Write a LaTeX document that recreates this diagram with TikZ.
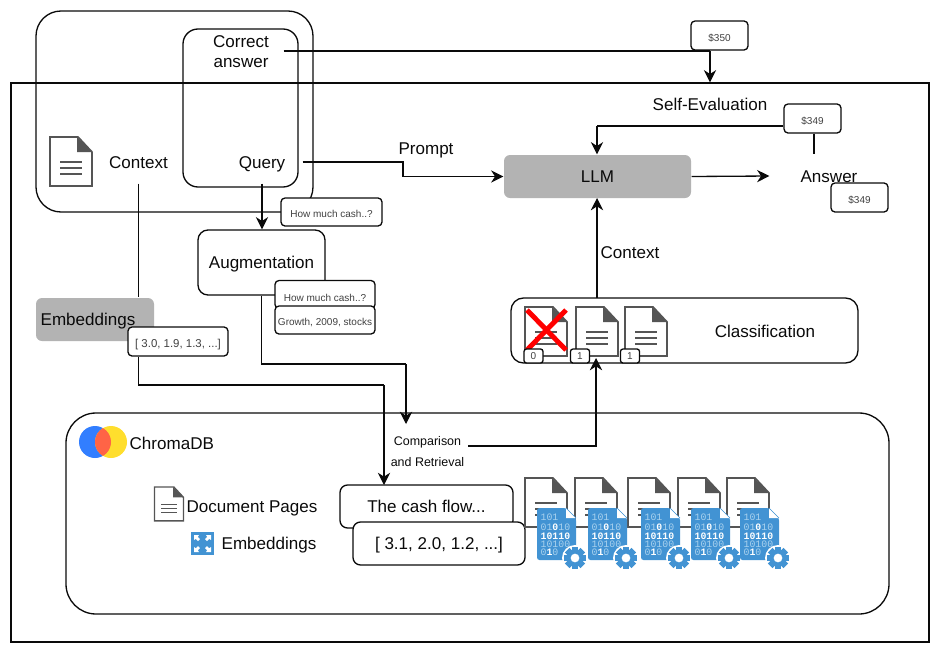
\documentclass[tikz,border=0pt]{standalone}
\usepackage{fontspec}
\setmainfont{Liberation Sans}
\setmonofont{Liberation Mono}
\usetikzlibrary{calc, arrows.meta, positioning}
\definecolor{lineblack}{RGB}{10,10,10}
\definecolor{panelgray}{RGB}{179,179,179}
\definecolor{docgray}{RGB}{85,85,85}
\definecolor{filesblue}{RGB}{66,147,211}
\definecolor{bitblue}{RGB}{170,210,238}
\definecolor{chromablue}{RGB}{50,126,255}
\definecolor{chromayellow}{RGB}{255,222,45}
\definecolor{chromared}{RGB}{255,100,70}

\begin{document}
\begin{tikzpicture}[x=0.02cm, y=-0.02cm, line width=0.75pt, lineblack]
		% Styles for boxes and connectors
		\tikzset{wh/.style 2 args={minimum width=#1*0.02cm, minimum height=#2*0.02cm, inner sep=0pt}}
		\tikzset{bigfont/.style={font=\fontsize{9.7}{11}\selectfont, text height=7pt, text depth=0pt}}
		\tikzset{tinyfont/.style={font=\fontsize{5.7}{7}\selectfont, text=black!75, text height=6.5pt, text depth=0pt}}
		\tikzset{panel/.style={draw, rounded corners=0.5cm}}
		\tikzset{stepbox/.style={draw, fill=white, rounded corners=0.2cm, bigfont}}
		\tikzset{tagbox/.style={draw, fill=white, rounded corners=0.08cm, tinyfont}}
		\tikzset{graybox/.style={fill=panelgray, rounded corners=0.12cm, bigfont}}
		\tikzset{txt/.style={bigfont, inner sep=0pt, align=center}}
		\tikzset{link/.style={draw}}
		\tikzset{arrow/.style={draw, -{Stealth[length=7pt, width=7pt]}}}

		% Icons, drawn from their top left corner
		\tikzset{docicon/.pic={
			\draw[docgray, line width=#1, fill=white] (0,0) -- (28,0) -- (42,15) -- (42,49) -- (0,49) -- cycle;
			\fill[docgray] (27,0) -- (42,15) -- (27,15) -- cycle;
			\foreach \ly in {25,31,37}
				\draw[docgray, line width=#1] (10,\ly) -- (32,\ly);
		}}
		\tikzset{bitfile/.pic={
			\fill[filesblue, rounded corners=0.05cm] (0,0) -- (29,0) -- (39,10) -- (39,52) -- (0,52) -- cycle;
			\fill[white] (29,0) -- (39,10) -- (29,10) -- cycle;
			\draw[filesblue, line width=0.3pt] (29,0) -- (39,10);
			\begin{scope}[every node/.style={anchor=west, inner sep=0pt, text=bitblue, font=\fontsize{5.6}{6}\ttfamily}]
				\node at (3,9) {101};
				\node at (3,19) {01\textcolor{white}{\textbf{0}}10};
				\node at (3,28) {\textcolor{white}{\textbf{10110}}};
				\node at (3,36) {10100};
				\node at (3,44) {0\textcolor{white}{\textbf{1}}0};
			\end{scope}
			% gear on the lower right corner
			\fill[white] (38,50) circle (13);
			\foreach \ga in {0,45,...,315}
				\fill[filesblue, rotate around={\ga:(38,50)}] (34.8,39) rectangle (41.2,44);
			\fill[filesblue, even odd rule] (38,50) circle (8.5) (38,50) circle (4.5);
		}}

		% Outer frame and input panels
		\node[draw, wh={918}{559}] (frame) at (470,362.5) {};
		\node[panel, wh={277}{201}] (source) at (174.5,111.5) {};
		\node[panel, rounded corners=0.3cm, wh={115}{158}] (pair) at (240.5,108) {};
		\node[panel, rounded corners=0.6cm, wh={823}{201}] (chroma) at (477.5,513.5) {};
		\node[panel, rounded corners=0.25cm, wh={347}{65}, fill=white] (classify) at (684.5,330.5) {};

		% Texts
		\node[txt, wh={84}{42}, text height=18pt] (correct) at (241,51.5) {Correct\\answer};
		\node[txt, wh={80}{42}] (query) at (262,162) {Query};
		\node[txt, wh={58}{42}] (context) at (138.5,162) {Context};
		\node[txt, wh={118}{42}] (answer) at (829,176) {Answer};
		\node[txt] (prompt) at (426,148) {Prompt};
		\node[txt] (selfeval) at (710,104) {Self-Evaluation};
		\node[txt] (ctxlabel) at (630,252) {Context};
		\node[txt] (classlabel) at (765,331) {Classification};
		\node[txt, anchor=west] (chromaname) at (129,443) {ChromaDB};
		\node[txt, anchor=west] (pageslabel) at (186,506) {Document Pages};
		\node[txt, anchor=west] (embedlabel) at (221,543) {Embeddings};
		\node[inner sep=0pt, align=center, font=\fontsize{7.1}{12}\selectfont, wh={76}{52}] (compare) at (427.5,451.5) {Comparison\\and Retrieval};

		% Boxes
		\node[graybox, wh={187}{43}] (llm) at (597.5,176.5) {LLM};
		\node[graybox, wh={118}{43}] (embedbox) at (95,319.5) {};
		\node[txt, anchor=west] (embedname) at (40,319) {Embeddings};
		\node[stepbox, wh={127}{65}] (augment) at (261.5,262.5) {Augmentation};
		\node[stepbox, rounded corners=0.15cm, wh={173}{43}] (cash) at (426.5,506.5) {The cash flow...};
		\node[stepbox, rounded corners=0.15cm, wh={172}{43}] (vector) at (439,543.5) {[ 3.1, 2.0, 1.2, ...]};

		% Small value tags
		\node[tagbox, wh={57}{29}] (goldtag) at (719.5,35.5) {\$350};
		\node[tagbox, wh={57}{29}] (evaltag) at (812.5,118.5) {\$349};
		\node[tagbox, wh={57}{29}] (answertag) at (859.5,197.5) {\$349};
		\node[tagbox, wh={101}{28}] (querytag) at (331.5,212) {How much cash..?};
		\node[tagbox, wh={100}{28}, text height=7.5pt] (augtag) at (325,294.5) {How much cash..?};
		\node[tagbox, wh={100}{28}] (wordtag) at (325,320) {Growth, 2009, stocks};
		\node[tagbox, wh={100}{29}, font=\fontsize{6.5}{8}\selectfont] (embedtag) at (178,341.5) {[ 3.0, 1.9, 1.3, ...]};

		% Free ends and bends of the connectors
		\coordinate (goldjoin) at (710,51);
		\coordinate (evaljoin) at (597,126);
		\coordinate (promptbend) at (403,170);
		\coordinate (augbend) at (406,364);
		\coordinate (cmpin) at (406,424);
		\coordinate (embbend) at (384,385);
		\coordinate (cashin) at (384,485);
		\coordinate (cmpout) at (468,446);
		\coordinate (classin) at (596,358);
		\coordinate (classout) at (597,298);
		\coordinate (llmin) at (597,198);

		% Connectors
		\draw[link] (correct.east |- goldjoin) -- (goldjoin);
		\draw[arrow] (goldjoin) -- (frame.north -| goldjoin);
		\draw[link] (evaltag.south -| 814,0) -- (answer.north -| 814,0);
		\draw[link] (evaltag.west |- evaljoin) -- (evaljoin);
		\draw[arrow] (evaljoin) -- (llm.north -| evaljoin);
		\draw[arrow] (query.east) -| (promptbend) |- (llm.west);
		\draw[arrow] (llm.east) -- (answer.west);
		\draw[arrow] (query.south) -- (augment.north -| query.south);
		\draw[link] (context.south) -- (context.south |- embedbox.north);
		\draw[link] (context.south |- embedtag.south) |- (embbend);
		\draw[arrow] (embbend) -- (cashin);
		\draw[link] (augment.south) |- (augbend);
		\draw[arrow] (augbend) -- (cmpin);
		\draw[arrow] (cmpout) -| (classin);
		\draw[arrow] (classout) -- (llmin);

		% Document icons
		\pic at (50,137) {docicon=1pt};
		\pic[scale=0.69] at (154.5,487) {docicon=0.8pt};
		\foreach \dx in {525,576,625}
			\pic at (\dx,307) {docicon=1pt};
		\foreach \dx in {525,575,628,678,727}
			\pic at (\dx,478) {docicon=1pt};
		\foreach \fx in {537,588,641,691,740}
			\pic at (\fx,508) {bitfile};

		% Rejected page
		\draw[red, line width=2.8pt] (527,310) -- (566,350);
		\draw[red, line width=2.8pt] (566,310) -- (527,350);

		% Scores of the pages
		\node[tagbox, wh={19}{14}, rounded corners=0.05cm, text height=4pt] (scorea) at (533.5,356) {0};
		\node[tagbox, wh={19}{14}, rounded corners=0.05cm, text height=4pt] (scoreb) at (580,356) {1};
		\node[tagbox, wh={19}{14}, rounded corners=0.05cm, text height=4pt] (scorec) at (630,356) {1};

		% Chroma logo
		\fill[chromablue] (95,442) circle (16);
		\fill[chromayellow] (111,442) circle (16);
		\begin{scope}
			\clip (95,442) circle (16);
			\fill[chromared] (111,442) circle (16);
		\end{scope}

		% Embedding icon
		\fill[filesblue] (191,532) rectangle (214,555);
		\foreach \ea in {0,90,180,270}
			\fill[white, rotate around={\ea:(202.5,543.5)}] (194,535) -- (199,535) -- (197.8,536.8) -- (200,539) -- (198,541) -- (195.8,538.8) -- (194,540) -- cycle;

		\useasboundingbox (0,0) rectangle (940,653);
	\end{tikzpicture}
\end{document}
